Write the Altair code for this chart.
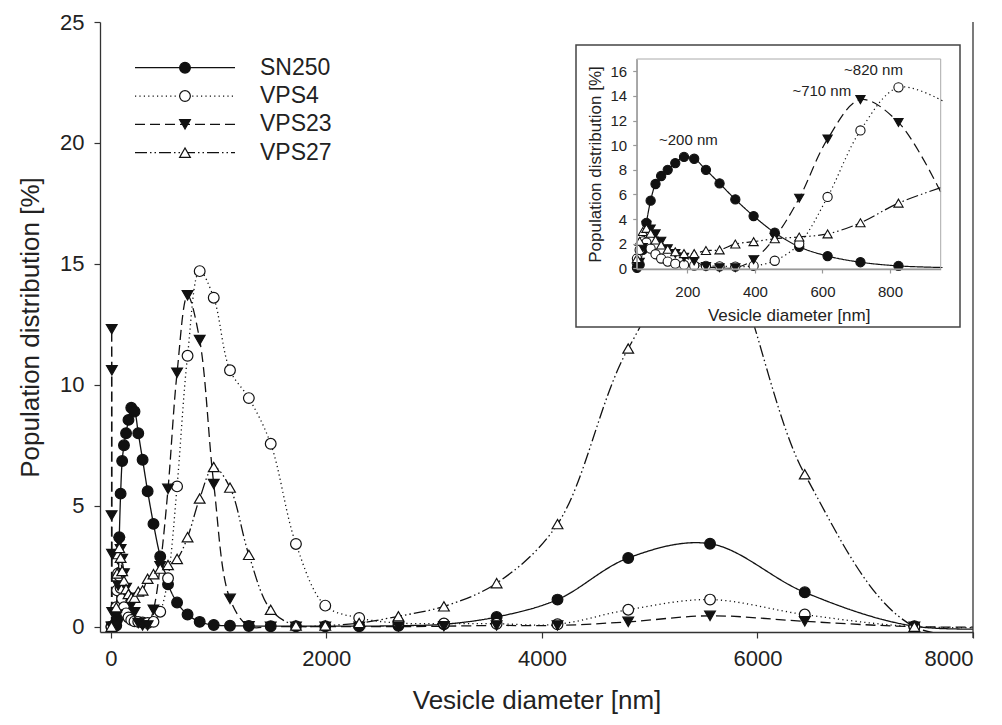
import altair as alt
import pandas as pd

FONT = "Liberation Sans"
TXT = "#222222"

series_names = ["SN250", "VPS4", "VPS23", "VPS27"]

# DLS size bins (nm)
size_bins = [50.75, 58.77, 68.06, 78.82, 91.28, 105.7, 122.4, 141.8, 164.2, 190.1,
             220.2, 255.0, 295.3, 342.0, 396.1, 458.7, 531.2, 615.1, 712.4, 825.0,
             955.4, 1106, 1281, 1484, 1718, 1990, 2305, 2669, 3091, 3580,
             4145, 4801, 5560, 6439, 7456, 8635]
lead_bin = [6.44]
lead_zero = [0.0]
vps23_lead_bins = [6.44, 7.46, 8.65, 10.1, 11.7, 13.5, 15.7]
vps23_lead_vals = [0.0, 4.6, 12.3, 10.6, 3.0, 0.6, 0.0]

sn250 = [0.05, 0.3, 1.5, 3.7, 5.5, 6.85, 7.5, 8.0, 8.55, 9.05,
         8.9, 8.0, 6.9, 5.6, 4.25, 2.9, 1.75, 1.0, 0.5, 0.2,
         0.07, 0.04, 0.03, 0.02, 0.02, 0.02, 0.02, 0.04, 0.1, 0.4,
         1.12, 2.84, 3.43, 1.42, 0.02, 0.0]
vps4 = [0.8, 1.5, 2.2, 2.1, 1.6, 1.15, 0.8, 0.55, 0.38, 0.28,
        0.22, 0.2, 0.17, 0.15, 0.2, 0.62, 2.0, 5.8, 11.2, 14.7,
        13.6, 10.6, 9.45, 7.56, 3.42, 0.87, 0.36, 0.15, 0.13, 0.12,
        0.1, 0.7, 1.12, 0.5, 0.0, 0.0]
vps23 = [0.05, 0.5, 1.7, 3.5, 3.2, 2.8, 2.2, 1.6, 1.2, 0.9,
         0.6, 0.15, 0.05, 0.05, 0.7, 2.5, 5.7, 10.5, 13.7, 11.85,
         5.9, 1.15, 0.02, 0.0, 0.0, 0.0, 0.0, 0.0, 0.02, 0.05,
         0.05, 0.2, 0.45, 0.22, 0.0, 0.0]
vps27 = [0.8, 2.2, 3.0, 3.25, 2.85, 2.3, 1.9, 1.55, 1.35, 1.2,
         1.2, 1.45, 1.5, 1.98, 2.17, 2.4, 2.55, 2.8, 3.7, 5.3,
         6.6, 5.75, 2.97, 0.7, 0.05, 0.05, 0.15, 0.43, 0.84, 1.8,
         4.24, 11.5, 16.0, 6.3, 0.0, 0.0]

main_x_ticks = [0, 2000, 4000, 6000, 8000]
main_y_ticks = [0, 5, 10, 15, 20, 25]
inset_x_ticks = [200, 400, 600, 800]
inset_y_ticks = [0, 2, 4, 6, 8, 10, 12, 14, 16]

ann_text = ["~200 nm", "~710 nm", "~820 nm"]
ann_x = [203, 598, 751]
ann_y = [10.4, 14.4, 16.1]

# ---------- tables ----------
rows = []
series_data = {
    "SN250": (lead_bin + size_bins, lead_zero + sn250),
    "VPS4": (lead_bin + size_bins, lead_zero + vps4),
    "VPS23": (vps23_lead_bins + size_bins, vps23_lead_vals + vps23),
    "VPS27": (lead_bin + size_bins, lead_zero + vps27),
}
for name in series_names:
    xs, ys = series_data[name]
    for xv, yv in zip(xs, ys):
        rows.append({"series": name, "x": xv, "y": yv})
df = pd.DataFrame(rows)

inset_lo, inset_hi = 50, 950
df_inset_line = df[(df.x >= inset_lo) & (df.x <= 956)]
df_inset_pts = df[(df.x >= inset_lo) & (df.x <= inset_hi)]
df_ann = pd.DataFrame({"text": ann_text, "x": ann_x, "y": ann_y})
df_leg = pd.DataFrame({"series": series_names})

# ---------- shared style scales ----------
dash_scale = alt.Scale(domain=series_names,
                       range=[[1, 0], [1.2, 3.2], [10, 5], [12, 3, 1.5, 3, 1.5, 3]])
shape_scale = alt.Scale(domain=series_names,
                        range=["circle", "circle", "triangle-down", "triangle-up"])
fill_scale = alt.Scale(domain=series_names,
                       range=["#111111", "white", "#111111", "white"])

dash_enc = alt.StrokeDash("series:N", scale=dash_scale, legend=None)
shape_enc = alt.Shape("series:N", scale=shape_scale, legend=None)
fill_enc = alt.Fill("series:N", scale=fill_scale, legend=None)

W, H = 873, 610

# ---------- main plot ----------
mx = alt.X("x:Q",
           scale=alt.Scale(domain=[-100, 8000], nice=False, zero=False),
           axis=alt.Axis(values=main_x_ticks, format="d", title="Vesicle diameter [nm]",
                         labelFontSize=22, titleFontSize=26, tickSize=6,
                         labelPadding=10, titlePadding=18))
my = alt.Y("y:Q",
           scale=alt.Scale(domain=[-0.22, 25], nice=False, zero=False),
           axis=alt.Axis(values=main_y_ticks, title="Population distribution [%]",
                         labelFontSize=22, titleFontSize=26, tickSize=6,
                         labelPadding=10, titlePadding=16))

main_lines = alt.Chart(df).mark_line(
    interpolate="catmull-rom", color="#111111", strokeWidth=1.3, clip=True
).encode(x=mx, y=my, strokeDash=dash_enc, detail="series:N")

main_pts = alt.Chart(df).mark_point(
    filled=True, size=115, stroke="#111111", strokeWidth=1.2, opacity=1, clip=True
).encode(x=mx, y=my, shape=shape_enc, fill=fill_enc)

main = alt.layer(main_lines, main_pts)

# ---------- frame pieces ----------
right_edge = alt.Chart(df_leg.head(1)).mark_rule(color="#333333", strokeWidth=1.3).encode(
    x=alt.value(W), y=alt.value(0), y2=alt.value(H + 6))

box = alt.Chart(df_leg.head(1)).mark_rect(
    fill="white", stroke="#444444", strokeWidth=1.5
).encode(x=alt.value(476), x2=alt.value(860), y=alt.value(23), y2=alt.value(305))

# ---------- inset ----------
ix0, ix1 = 536.7, 840.7
iy0, iy1 = 247, 37

ix = alt.X("x:Q",
           scale=alt.Scale(domain=[inset_lo, inset_hi], range=[ix0, ix1], nice=False, zero=False),
           axis=alt.Axis(values=inset_x_ticks, title="Vesicle diameter [nm]", orient="bottom",
                         offset=-(H - iy0), zindex=1, labelFontSize=15, titleFontSize=17,
                         tickSize=4, labelPadding=11, titlePadding=8,
                         domainColor="#999999", tickColor="#999999"))
iy = alt.Y("y:Q",
           scale=alt.Scale(domain=[-0.05, 17], range=[iy0, iy1], nice=False, zero=False),
           axis=alt.Axis(values=inset_y_ticks, title="Population distribution [%]", orient="left",
                         offset=-ix0, zindex=1, labelFontSize=15, titleFontSize=17,
                         tickSize=4, labelPadding=6, titlePadding=6,
                         domainColor="#999999", tickColor="#999999"))

frame = alt.Chart(df_leg.head(1)).mark_rect(
    fillOpacity=0, stroke="#aaaaaa", strokeWidth=1
).encode(x=alt.value(ix0), x2=alt.value(ix1), y=alt.value(iy1), y2=alt.value(iy0))

inset_lines = alt.Chart(df_inset_line).mark_line(
    interpolate="catmull-rom", color="#111111", strokeWidth=1.2
).encode(x=ix, y=iy, strokeDash=dash_enc, detail="series:N")

inset_pts = alt.Chart(df_inset_pts).mark_point(
    filled=True, size=85, stroke="#111111", strokeWidth=1.1, opacity=1
).encode(x=ix, y=iy, shape=shape_enc, fill=fill_enc)

inset_ann = alt.Chart(df_ann).mark_text(
    font=FONT, fontSize=15, color=TXT, align="center", baseline="middle"
).encode(x=ix, y=iy, text="text:N")

inset = alt.layer(inset_lines, inset_pts, inset_ann, frame)

# ---------- legend ----------
ly = alt.Y("series:N",
           scale=alt.Scale(type="point", domain=series_names, range=[45.7, 130.7], padding=0),
           axis=None)
leg_rule = alt.Chart(df_leg).mark_rule(color="#111111", strokeWidth=1.3).encode(
    x=alt.value(35), x2=alt.value(135), y=ly, strokeDash=dash_enc)
leg_pts = alt.Chart(df_leg).mark_point(
    filled=True, size=115, stroke="#111111", strokeWidth=1.2, opacity=1
).encode(x=alt.value(85), y=ly, shape=shape_enc, fill=fill_enc)
leg_txt = alt.Chart(df_leg).mark_text(
    font=FONT, fontSize=23, color=TXT, align="left", baseline="middle"
).encode(x=alt.value(160), y=ly, text="series:N")
legend = alt.layer(leg_rule, leg_pts, leg_txt)

chart = alt.layer(main, right_edge, box, inset, legend).resolve_scale(
    x="independent", y="independent"
).properties(
    width=W, height=H,
    autosize=alt.AutoSizeParams(type="none"),
    padding={"left": 100, "top": 22, "right": 29, "bottom": 93},
    background="white",
).configure_axis(
    labelFont=FONT, titleFont=FONT, labelColor=TXT, titleColor=TXT,
    titleFontWeight="normal", grid=False, domainColor="#333333", tickColor="#333333",
    domainWidth=1.3, tickWidth=1.2,
).configure_view(stroke=None)

chart.save("out.html", embed_options={"renderer": "svg", "actions": False})
